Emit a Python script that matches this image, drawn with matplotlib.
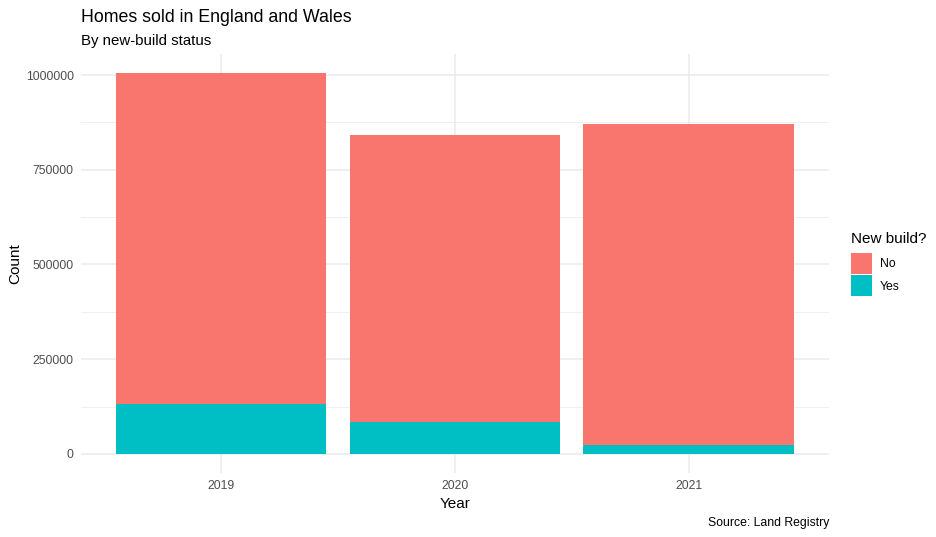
import numpy as np
import matplotlib
matplotlib.use("Agg")
import matplotlib.pyplot as plt
from matplotlib.patches import Patch
from matplotlib.ticker import MultipleLocator

plt.rcParams['font.family'] = ['Liberation Sans', 'DejaVu Sans']

years = ['2019', '2020', '2021']
new_build_yes = [132700, 85200, 24500]
new_build_no = [873300, 756000, 846000]
legend_labels = ['No', 'Yes']

col_no = '#F8766D'
col_yes = '#00BFC4'
grid_col = '#EBEBEB'
text_col = '#4D4D4D'

fig = plt.figure(figsize=(9.37, 5.37), dpi=100)
ax = fig.add_axes([0.086, 0.1192, 0.7987, 0.7808])

x = np.arange(len(years))
ax.bar(x, new_build_yes, width=0.9, color=col_yes, zorder=2)
ax.bar(x, new_build_no, width=0.9, bottom=new_build_yes, color=col_no, zorder=2)

top = max(a + b for a, b in zip(new_build_yes, new_build_no))
ax.set_ylim(-0.05 * top, top * 1.05)
ax.set_xlim(-0.6, len(years) - 0.4)

ax.yaxis.set_major_locator(MultipleLocator(250000))
ax.yaxis.set_minor_locator(MultipleLocator(125000))
ax.set_xticks(x)
ax.set_xticklabels(years)
ax.yaxis.set_major_formatter(matplotlib.ticker.FuncFormatter(lambda v, p: '%d' % v))

ax.grid(which='major', color=grid_col, linewidth=1.1, zorder=0)
ax.grid(which='minor', axis='y', color=grid_col, linewidth=0.55, zorder=0)
for s in ax.spines.values():
    s.set_visible(False)
ax.tick_params(which='both', length=0, colors=text_col, labelsize=8.8, pad=5)
for lbl in ax.get_xticklabels() + ax.get_yticklabels():
    lbl.set_color(text_col)

ax.set_xlabel('Year', fontsize=11, labelpad=4)
ax.set_ylabel('Count', fontsize=11)
ax.yaxis.set_label_coords(-0.078, 0.5)

fig.text(0.0865, 0.968, 'Homes sold in England and Wales', fontsize=12.8, va='center', ha='left')
fig.text(0.0865, 0.924, 'By new-build status', fontsize=10.8, va='center', ha='left')
fig.text(0.885, 0.026, 'Source: Land Registry', fontsize=8.8, va='center', ha='right')

handles = [Patch(facecolor=col_no), Patch(facecolor=col_yes)]
leg = fig.legend(handles, legend_labels, title='New build?', loc='upper left',
                 bbox_to_anchor=(0.908, 0.568), frameon=False, fontsize=8.8,
                 title_fontsize=11, handlelength=1.72, handleheight=2.27,
                 handletextpad=0.65, labelspacing=0.12, borderpad=0, borderaxespad=0)
leg._legend_box.align = 'left'
leg._legend_box.sep = 5

fig.savefig('out.png', dpi=100, facecolor='white')
